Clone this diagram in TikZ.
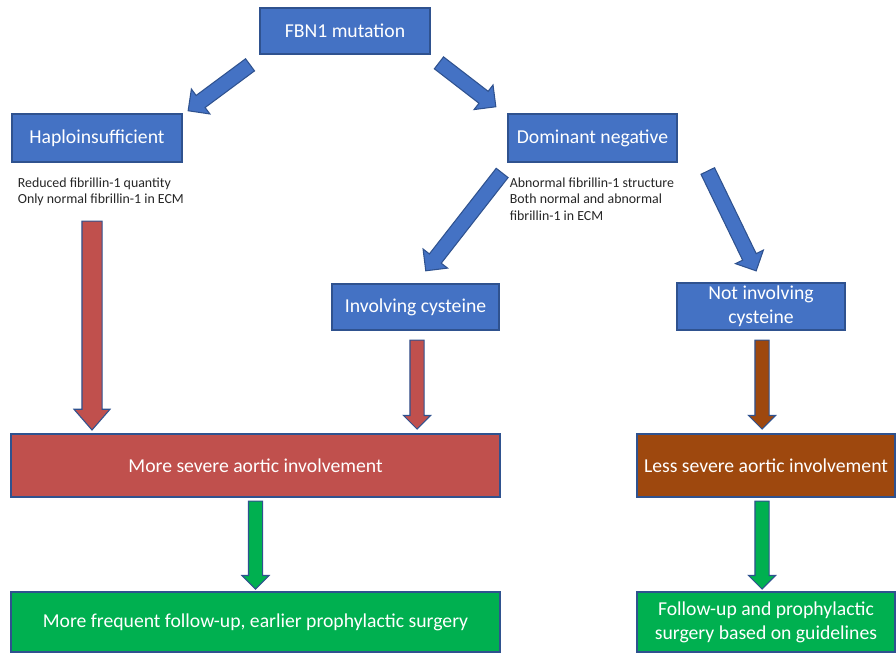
\documentclass[tikz,border=0pt]{standalone}
\usepackage{fontspec}
\setmainfont{Carlito}
\usepackage{tikz}
\usetikzlibrary{positioning,calc,shapes.arrows}
\definecolor{bleu}{HTML}{4472C4}
\definecolor{bord}{HTML}{2F528F}
\definecolor{rouge}{HTML}{C0504D}
\definecolor{brun}{HTML}{9E480E}
\definecolor{vert}{HTML}{00B050}
\definecolor{noteC}{HTML}{262626}
\newcommand{\bigarrow}[3]{\path let \p1=#2, \p2=#3, \n1={atan2(\y2-\y1,\x2-\x1)},
  \n2={veclen(\x2-\x1,\y2-\y1)} in node[#1, rotate=\n1, minimum height=\n2] at (\p1) {};}
\tikzset{
  bloc/.style={rectangle, draw=bord, line width=0.6pt, fill=#1, text=white, align=center,
               font=\fontsize{11.2}{13.5}\selectfont, inner sep=1pt},
  remarque/.style={align=left, text=noteC, font=\fontsize{7.9}{9.3}\selectfont, inner sep=0pt},
  fleche/.style={single arrow, draw=bord, line width=0.6pt, fill=#1, anchor=tail, inner xsep=0pt,
                 inner ysep=0.13cm, minimum width=0pt, single arrow head extend=0.13cm,
                 single arrow tip angle=90},
  grosse/.style={fleche=#1, inner ysep=0.19cm, single arrow head extend=0.16cm,
                 single arrow tip angle=82},
  oblique/.style={fleche=#1, inner ysep=0.14cm, single arrow head extend=0.16cm},
}
\begin{document}
\begin{tikzpicture}
    \useasboundingbox (0,0) rectangle (17.92,-13.1);
    % boxes
    \node[bloc=bleu, minimum width=3.4cm, minimum height=0.92cm] (fbn) at (6.90,-0.62) {FBN1 mutation};
    \node[bloc=bleu, minimum width=3.4cm, minimum height=0.96cm] (haplo) at (1.94,-2.76) {Haploinsufficient};
    \node[bloc=bleu, minimum width=3.38cm, minimum height=0.96cm] (domneg) at (11.85,-2.76) {Dominant negative};
    \node[bloc=bleu, minimum width=3.34cm, minimum height=0.92cm] (invcys) at (8.31,-6.14) {Involving cysteine};
    \node[bloc=bleu, minimum width=3.36cm, minimum height=0.94cm] (notcys) at (15.22,-6.13) {Not involving\\cysteine};
    \node[bloc=rouge, minimum width=9.78cm, minimum height=1.26cm] (more) at (5.11,-9.31) {More severe aortic involvement};
    \node[bloc=brun, minimum width=5.16cm, minimum height=1.26cm] (less) at (15.32,-9.31) {Less severe aortic involvement};
    \node[bloc=vert, minimum width=9.78cm, minimum height=1.2cm] (freq) at (5.11,-12.44) {More frequent follow-up, earlier prophylactic surgery};
    \node[bloc=vert, minimum width=5.16cm, minimum height=1.2cm] (guide) at (15.32,-12.44) {Follow-up and prophylactic\\surgery based on guidelines};
    % notes
    \node[remarque, below right=3mm and 1.2mm of haplo.south west] (nhaplo)
      {Reduced fibrillin-1 quantity\\Only normal fibrillin-1 in ECM};
    \node[remarque, below right=3mm and 0.4mm of domneg.south west] (ndom)
      {Abnormal fibrillin-1 structure\\Both normal and abnormal\\fibrillin-1 in ECM};
    % arrows
    \bigarrow{oblique=bleu}{($(fbn.south west)+(-0.18,-0.20)$)}{($(haplo.north east)+(0.12,0.06)$)}
    \bigarrow{oblique=bleu}{($(fbn.south east)+(0.16,-0.16)$)}{($(domneg.north west)+(-0.24,0.14)$)}
    \bigarrow{oblique=bleu}{($(domneg.south west)+(-0.10,-0.20)$)}{($(invcys.north)+(0.21,0.26)$)}
    \bigarrow{oblique=bleu}{($(domneg.south east)+(0.60,-0.16)$)}{($(notcys.north)+(-0.10,0.24)$)}
    \bigarrow{grosse=rouge}{($(haplo.south)+(-0.10,-1.16)$)}{($(haplo.south |- more.north)+(-0.10,0.08)$)}
    \bigarrow{fleche=rouge}{($(invcys.south)+(0.03,-0.18)$)}{($(invcys.south |- more.north)+(0.03,0.10)$)}
    \bigarrow{fleche=brun}{($(notcys.south)+(0.02,-0.18)$)}{($(notcys.south |- less.north)+(0.02,0.10)$)}
    \bigarrow{fleche=vert}{($(more.south)+(0,-0.06)$)}{($(freq.north)+(0,0.06)$)}
    \bigarrow{fleche=vert}{($(less.south)+(-0.08,-0.06)$)}{($(guide.north)+(-0.08,0.06)$)}
  \end{tikzpicture}
\end{document}
